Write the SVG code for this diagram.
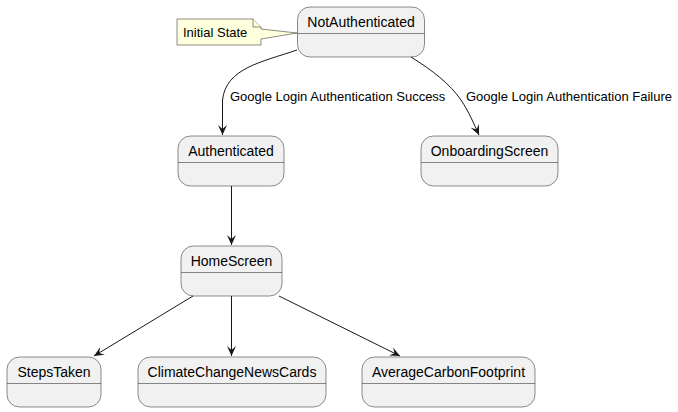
<svg xmlns="http://www.w3.org/2000/svg" width="678" height="412" viewBox="0 0 678 412">
<defs>
<style>
.st{fill:#F1F1F1;stroke:#181818;stroke-width:0.5}
.dv{stroke:#181818;stroke-width:0.5}
.t{font-family:"Liberation Sans",Arial,sans-serif;font-size:14px;fill:#000;text-anchor:middle}
.lb{font-family:"Liberation Sans",Arial,sans-serif;font-size:13px;fill:#000}
.e{fill:none;stroke:#181818;stroke-width:1}
.note{fill:#FEFFDD;stroke:#181818;stroke-width:0.5}
</style>
<marker id="ah" viewBox="0 0 10 10" refX="10" refY="5" markerWidth="10" markerHeight="10" markerUnits="userSpaceOnUse" orient="auto">
<path d="M0,0.5 L10,5 L0,9.5 L4,5 Z" fill="#181818"/>
</marker>
</defs>
<g id="note">
<path class="note" d="M177,19 L253,19 L261,27 L261,29 L297,33 L261,39 L261,45 L177,45 Z"/>
<path class="note" d="M253,19 L253,27 L261,27"/>
<text class="lb" x="183" y="37">Initial State</text>
</g>
<g id="NotAuthenticated">
<rect class="st" x="297.5" y="7" width="127" height="50" rx="12.5"/>
<line class="dv" x1="297.5" y1="33.5" x2="424.5" y2="33.5"/>
<text class="t" x="361" y="27">NotAuthenticated</text>
</g>
<g id="Authenticated">
<rect class="st" x="178" y="136" width="106" height="50" rx="12.5"/>
<line class="dv" x1="178" y1="162.5" x2="284" y2="162.5"/>
<text class="t" x="231" y="156">Authenticated</text>
</g>
<g id="OnboardingScreen">
<rect class="st" x="421" y="136" width="137" height="50" rx="12.5"/>
<line class="dv" x1="421" y1="162.5" x2="558" y2="162.5"/>
<text class="t" x="489.5" y="156">OnboardingScreen</text>
</g>
<g id="HomeScreen">
<rect class="st" x="181" y="246" width="101" height="50" rx="12.5"/>
<line class="dv" x1="181" y1="272.5" x2="282" y2="272.5"/>
<text class="t" x="231.5" y="266">HomeScreen</text>
</g>
<g id="StepsTaken">
<rect class="st" x="7" y="357" width="94" height="50" rx="12.5"/>
<line class="dv" x1="7" y1="383.5" x2="101" y2="383.5"/>
<text class="t" x="54" y="377">StepsTaken</text>
</g>
<g id="ClimateChangeNewsCards">
<rect class="st" x="138" y="357" width="188" height="50" rx="12.5"/>
<line class="dv" x1="138" y1="383.5" x2="326" y2="383.5"/>
<text class="t" x="232" y="377">ClimateChangeNewsCards</text>
</g>
<g id="AverageCarbonFootprint">
<rect class="st" x="362" y="357" width="173" height="50" rx="12.5"/>
<line class="dv" x1="362" y1="383.5" x2="535" y2="383.5"/>
<text class="t" x="448.5" y="377">AverageCarbonFootprint</text>
</g>
<g id="connectors">
<path class="e" marker-end="url(#ah)" d="M297,50 C262,62 226,68 222.5,100 L222.5,135"/>
<path class="e" marker-end="url(#ah)" d="M411,57 C432,70 450,84 461,100 C469,112 474,124 479,135"/>
<path class="e" marker-end="url(#ah)" d="M231.5,186 L231.5,245"/>
<path class="e" marker-end="url(#ah)" d="M193,296 L94,356"/>
<path class="e" marker-end="url(#ah)" d="M231.5,296 L231.5,356"/>
<path class="e" marker-end="url(#ah)" d="M279,296 L400,356"/>
<text class="lb" x="230" y="101">Google Login Authentication Success</text>
<text class="lb" x="466" y="101">Google Login Authentication Failure</text>
</g>
</svg>
